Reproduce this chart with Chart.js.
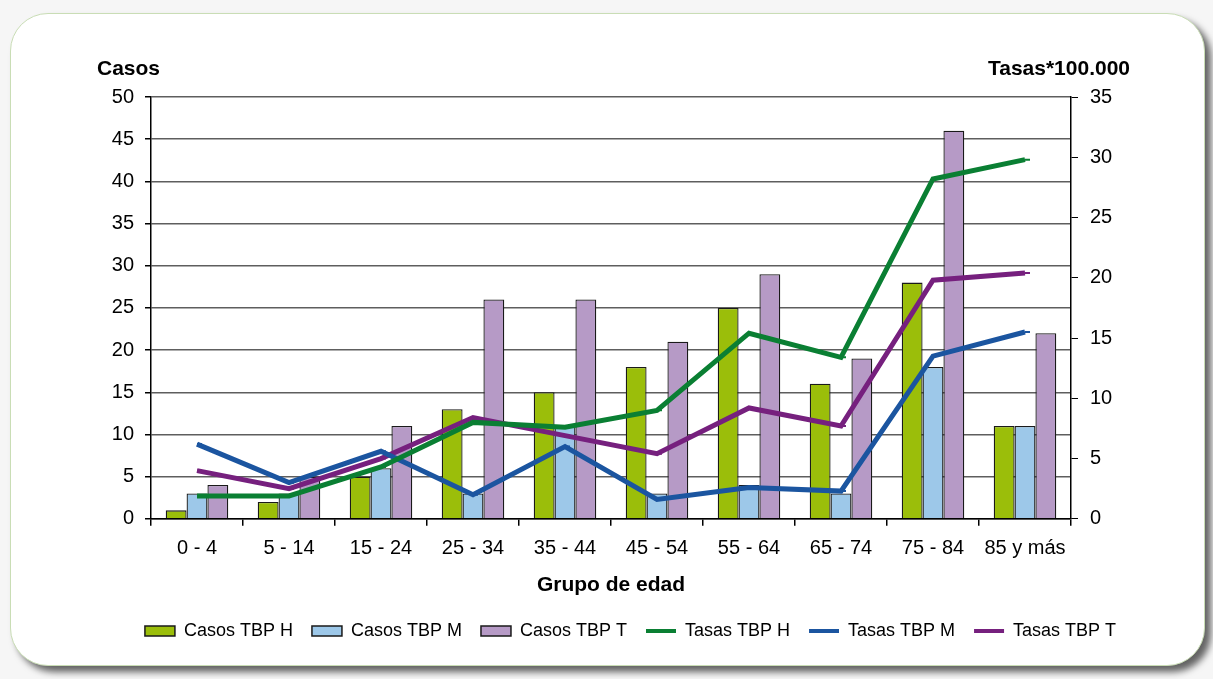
<!DOCTYPE html>
<html>
<head>
<meta charset="utf-8">
<title>Casos y tasas de TBP por grupo de edad</title>
<script src="https://cdn.jsdelivr.net/npm/chart.js@4/dist/chart.umd.min.js"></script>
<style>
  html, body { margin: 0; padding: 0; width: 1213px; height: 679px; overflow: hidden; background: #f6f6f6; }
  #panel {
    position: absolute; left: 10px; top: 13px; width: 1193px; height: 651px;
    background: #ffffff; border: 1px solid #c9ddb5; border-radius: 38px;
    box-shadow: 6px 6px 7px rgba(0, 0, 0, 0.6);
  }
  #wrap { position: absolute; left: 0; top: 0; width: 1213px; height: 679px; }
</style>
</head>
<body>
<div id="panel"></div>
<div id="wrap"><canvas id="chart"></canvas></div>
<script>
// Age groups
const categories = ['0 - 4', '5 - 14', '15 - 24', '25 - 34', '35 - 44', '45 - 54', '55 - 64', '65 - 74', '75 - 84', '85 y más'];

// Cases (left axis)
const casosH = [1, 2, 5, 13, 15, 18, 25, 16, 28, 11];
const casosM = [3, 3, 6, 3, 11, 3, 4, 3, 18, 11];
const casosT = [4, 5, 11, 26, 26, 21, 29, 19, 46, 22];

// Rates per 100.000 (right axis)
const tasasH = [1.9, 1.9, 4.3, 8.0, 7.6, 9.0, 15.4, 13.4, 28.2, 29.8];
const tasasM = [6.2, 3.0, 5.6, 2.0, 6.0, 1.6, 2.6, 2.3, 13.5, 15.5];
const tasasT = [4.0, 2.5, 5.0, 8.4, 6.9, 5.4, 9.2, 7.7, 19.8, 20.4];

const leftTitle = 'Casos';
const rightTitle = 'Tasas*100.000';
const xTitle = 'Grupo de edad';

const FONT = "'Liberation Sans', Arial, sans-serif";

function barSet(label, data, color) {
  return {
    type: 'bar', label, data, yAxisID: 'y',
    backgroundColor: color, borderColor: '#1a1a1a', borderWidth: 1.3,
    categoryPercentage: 0.68, barPercentage: 1.0, order: 2
  };
}
function lineSet(label, data, color) {
  return {
    type: 'line', label, data, yAxisID: 'y1',
    borderColor: color, backgroundColor: color, borderWidth: 5,
    pointStyle: 'dash', pointRadius: 5, pointBorderWidth: 2,
    pointBorderColor: color, tension: 0, order: 1,
    borderJoinStyle: 'miter'
  };
}

// Axis captions above both value axes
const axisCaptions = {
  id: 'axisCaptions',
  afterDraw(chart) {
    const ctx = chart.ctx;
    const area = chart.chartArea;
    ctx.save();
    ctx.fillStyle = '#000';
    ctx.font = 'bold 21px ' + FONT;
    ctx.textBaseline = 'middle';
    ctx.textAlign = 'left';
    ctx.fillText(leftTitle, area.left - 54, area.top - 28);
    ctx.textAlign = 'right';
    ctx.fillText(rightTitle, area.right + 59, area.top - 28);
    ctx.restore();
  }
};

// Nudges the legend row sideways
const legendShift = {
  id: 'legendShift',
  afterLayout(chart) {
    const lg = chart.legend;
    if (lg) { lg.left += 24; lg.right += 24; }
  }
};

new Chart(document.getElementById('chart'), {
  data: {
    labels: categories,
    datasets: [
      barSet('Casos TBP H', casosH, '#9bbe0a'),
      barSet('Casos TBP M', casosM, '#9dc8e9'),
      barSet('Casos TBP T', casosT, '#b69ac6'),
      lineSet('Tasas TBP H', tasasH, '#0a7f33'),
      lineSet('Tasas TBP M', tasasM, '#1b55a0'),
      lineSet('Tasas TBP T', tasasT, '#76207e')
    ]
  },
  options: {
    responsive: true,
    maintainAspectRatio: false,
    animation: false,
    layout: { padding: { left: 20, right: 20, top: 97, bottom: 29 } },
    plugins: {
      tooltip: { enabled: false },
      legend: {
        position: 'bottom',
        labels: {
          color: '#000',
          font: { family: FONT, size: 18 },
          usePointStyle: true,
          pointStyleWidth: 30,
          boxHeight: 10,
          padding: 19,
          generateLabels(chart) {
            return chart.data.datasets.map((ds, i) => {
              const isBar = ds.type === 'bar';
              return {
                text: ds.label,
                datasetIndex: i,
                fillStyle: ds.backgroundColor,
                strokeStyle: isBar ? '#1a1a1a' : ds.borderColor,
                lineWidth: isBar ? 1.5 : 4,
                pointStyle: isBar ? 'rect' : 'line',
                fontColor: '#000',
                hidden: false
              };
            });
          }
        }
      }
    },
    scales: {
      x: {
        offset: true,
        grid: { offset: true, drawOnChartArea: false, drawTicks: true, tickLength: 7, tickColor: '#000', lineWidth: 1.5 },
        border: { color: '#000', width: 1.5 },
        ticks: { color: '#000', font: { family: FONT, size: 20 }, padding: 11, maxRotation: 0, autoSkip: false },
        title: { display: true, text: xTitle, color: '#000', font: { family: FONT, size: 21, weight: 'bold' }, padding: { top: 1, bottom: 5 } }
      },
      y: {
        position: 'left', min: 0, max: 50,
        afterFit(scale) { scale.width = 131; },
        ticks: { stepSize: 5, color: '#000', font: { family: FONT, size: 20 }, padding: 11 },
        grid: { color: '#5e5e5e', lineWidth: 1.5, tickLength: 6, tickColor: '#000' },
        border: { color: '#000', width: 1.5 }
      },
      y1: {
        position: 'right', min: 0, max: 35,
        afterFit(scale) { scale.width = 122; },
        ticks: { stepSize: 5, color: '#000', font: { family: FONT, size: 20 }, padding: 12 },
        grid: { drawOnChartArea: false, tickLength: 7, tickColor: '#000' },
        border: { color: '#000', width: 1.5 }
      }
    }
  },
  plugins: [axisCaptions, legendShift]
});
</script>
</body>
</html>
